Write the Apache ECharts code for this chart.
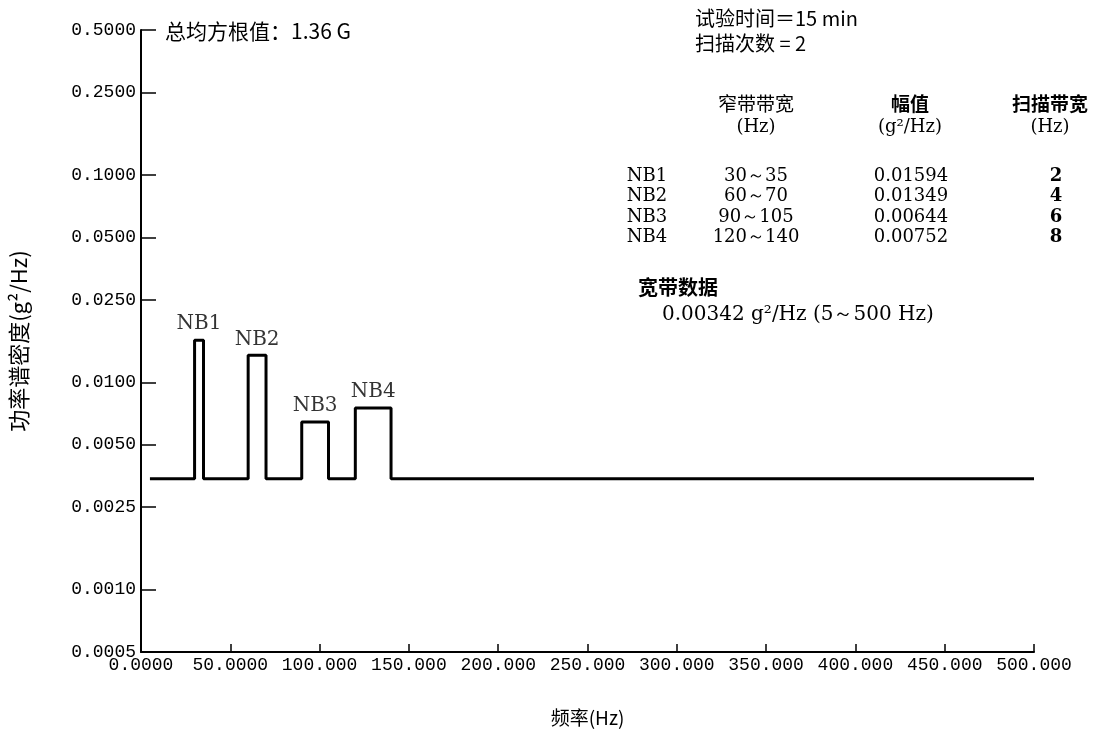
<!DOCTYPE html>
<html><head><meta charset="utf-8">
<script src="https://cdn.jsdelivr.net/npm/echarts@6/dist/echarts.min.js"></script>
<style>html,body{margin:0;padding:0;background:#fff}#c{width:1099px;height:732px}</style>
</head><body><div id="c"></div>
<script>
// ---- data ----
const yTicks = [0.5, 0.25, 0.1, 0.05, 0.025, 0.01, 0.005, 0.0025, 0.001, 0.0005];
const xTickLabels = ['0.0000','50.0000','100.000','150.000','200.000','250.000','300.000','350.000','400.000','450.000','500.000'];
const bandNames = ['NB1','NB2','NB3','NB4'];
const bandStart = [30, 60, 90, 120];
const bandEnd = [35, 70, 105, 140];
const bandRange = ['30～35','60～70','90～105','120～140'];
const bandAmp = [0.01594, 0.01349, 0.00644, 0.00752];
const bandAmpText = ['0.01594','0.01349','0.00644','0.00752'];
const sweepBW = [2, 4, 6, 8];
const broadAmp = 0.00342;
const broadStart = 5;
const broadEnd = 500;
const rmsText = '总均方根值：1.36 G';
const testTimeText = '试验时间＝15 min';
const sweepCountText = '扫描次数 = 2';
const headers = ['窄带带宽','幅值','扫描带宽'];
const units = ['(Hz)','(g²/Hz)','(Hz)'];
const broadTitle = '宽带数据';
const broadText = '0.00342 g²/Hz (5～500 Hz)';

// ---- build step line ----
const pts = [[broadStart, broadAmp]];
for (let i = 0; i < bandStart.length; i++) {
  pts.push([bandStart[i], broadAmp], [bandStart[i], bandAmp[i]], [bandEnd[i], bandAmp[i]], [bandEnd[i], broadAmp]);
}
pts.push([broadEnd, broadAmp]);
const labelPts = bandNames.map((n, i) => ({value: [(bandStart[i] + bandEnd[i]) / 2, bandAmp[i]], name: n}));

const CJK = '"Noto Sans CJK SC", sans-serif';
const SERIF = '"DejaVu Serif", serif';
const MONO = '"Liberation Mono", monospace';

const g = [];
function t(text, x, y, font, align) {
  g.push({type: 'text', style: {text, x, y, font, fill: '#000', textAlign: align || 'left', textVerticalAlign: 'middle'}});
}
t(rmsText, 165, 31, '21px ' + CJK);
t(testTimeText, 695, 18, '20px ' + CJK);
t(sweepCountText, 695, 43, '20px ' + CJK);
const colX = [756, 910, 1050];
headers.forEach((h, i) => t(h, colX[i], 104, (i === 0 ? '' : 'bold ') + '19px ' + CJK, 'center'));
units.forEach((u, i) => t(u, colX[i], 127, '18px ' + SERIF, 'center'));
bandNames.forEach((n, i) => {
  const y = 176 + i * 20.5;
  t(n, 647, y, '18px ' + SERIF, 'center');
  t(bandRange[i], 756, y, '18px ' + SERIF, 'center');
  t(bandAmpText[i], 911, y, '18px ' + SERIF, 'center');
  t(String(sweepBW[i]), 1056, y, 'bold 18px ' + SERIF, 'center');
});
t(broadTitle, 638, 287, 'bold 20px ' + CJK);
t(broadText, 662, 315, '20px ' + SERIF);

const chart = echarts.init(document.getElementById('c'));
chart.setOption({
  animation: false,
  backgroundColor: '#fff',
  grid: {left: 133, right: 65, top: 30, bottom: 74},
  xAxis: {
    type: 'value', min: 0, max: 500, interval: 50,
    name: '频率(Hz)', nameLocation: 'middle', nameGap: 56,
    nameTextStyle: {fontFamily: CJK, fontSize: 19, color: '#000'},
    axisLine: {show: true, lineStyle: {color: '#000', width: 2}},
    axisTick: {show: true, inside: true, length: 8, lineStyle: {color: '#000', width: 1.5}},
    axisLabel: {margin: 4, color: '#000', fontFamily: MONO, fontSize: 18, hideOverlap: false,
      formatter: v => xTickLabels[Math.round(v / 50)]},
    splitLine: {show: false}
  },
  yAxis: {
    type: 'log', logBase: 10, min: 0.0005, max: 0.5,
    name: '功率谱密度(g²/Hz)', nameLocation: 'middle', nameGap: 111, nameRotate: 90,
    nameTextStyle: {fontFamily: CJK, fontSize: 22, color: '#000'},
    axisLine: {show: true, lineStyle: {color: '#000', width: 2}},
    axisTick: {show: true, inside: true, length: 15, customValues: yTicks, lineStyle: {color: '#000', width: 1.5}},
    minorTick: {show: false},
    axisLabel: {margin: 5, color: '#000', fontFamily: MONO, fontSize: 18, customValues: yTicks,
      formatter: v => Number(v).toFixed(4)},
    splitLine: {show: false}
  },
  graphic: g,
  series: [
    {type: 'line', data: pts, showSymbol: false, symbol: 'none',
     lineStyle: {color: '#000', width: 3}, silent: true},
    {type: 'scatter', data: labelPts, symbolSize: 0, silent: true,
     label: {show: true, position: 'top', distance: 6, formatter: p => p.name,
       color: '#000', fontFamily: SERIF, fontSize: 20}}
  ]
});
</script>
</body></html>
